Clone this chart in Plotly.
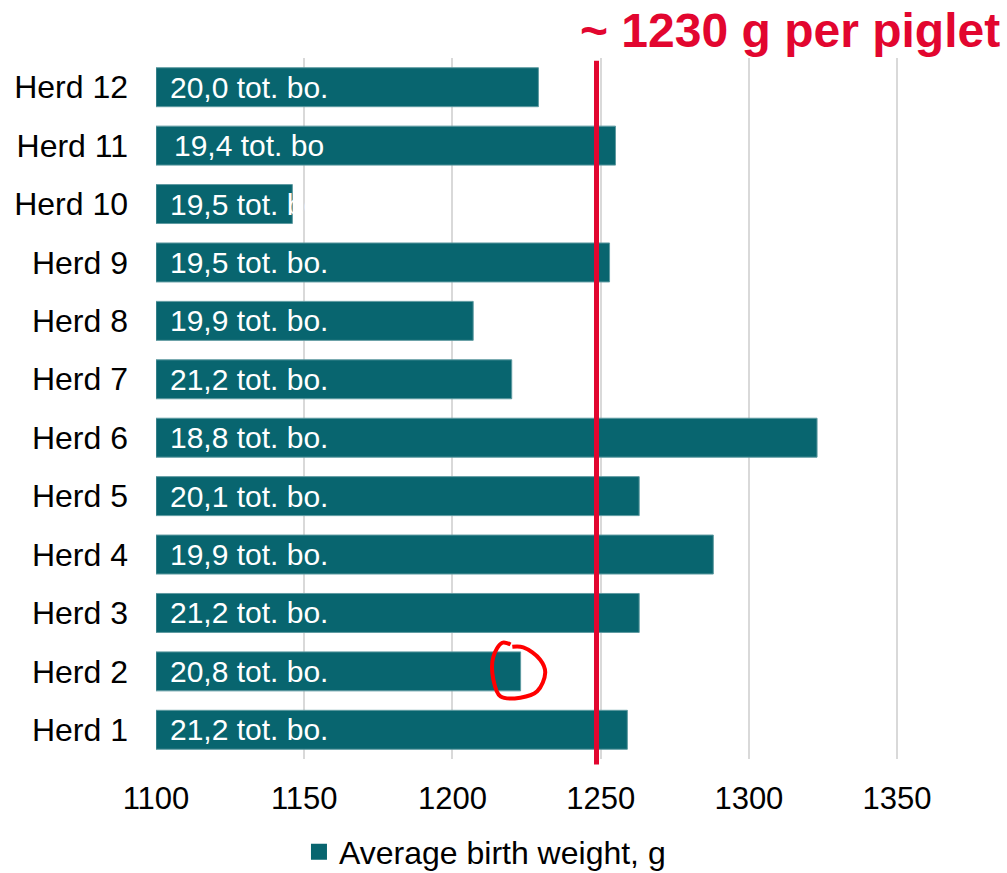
import plotly.graph_objects as go

# Herds listed bottom-to-top
herds = ["Herd 1", "Herd 2", "Herd 3", "Herd 4", "Herd 5", "Herd 6",
         "Herd 7", "Herd 8", "Herd 9", "Herd 10", "Herd 11", "Herd 12"]
birth_weight = [1259, 1223, 1263, 1288, 1263, 1323,
                1220, 1207, 1253, 1146, 1255, 1229]
total_born = ["21,2 tot. bo.", "20,8 tot. bo.", "21,2 tot. bo.", "19,9 tot. bo.",
              "20,1 tot. bo.", "18,8 tot. bo.", "21,2 tot. bo.", "19,9 tot. bo.",
              "19,5 tot. bo.", "19,5 tot. bo.", "19,4 tot. bo", "20,0 tot. bo."]
target_weight = 1248.6
x_ticks = [1100, 1150, 1200, 1250, 1300, 1350]

# hand-drawn ring around Herd 2's bar end (g, row position)
ring_x = [1219.6, 1216.8, 1213.8, 1213.8, 1216.2, 1222.9, 1228.6, 1231.3, 1229.6, 1223.9, 1220.2]
ring_y = [1.46, 1.49, 1.25, 0.86, 0.57, 0.55, 0.66, 0.98, 1.20, 1.41, 1.42]

BAR = "#08656F"
RED = "#E2062F"
SANS = "Liberation Sans, Arial, sans-serif"

rows = list(range(len(herds)))

fig = go.Figure()
fig.add_trace(go.Bar(
    y=rows, x=[w - 1100 for w in birth_weight], base=1100, orientation="h",
    marker=dict(color=BAR, line=dict(color="#5E9AA1", width=1)),
    showlegend=False, hoverinfo="skip",
))
# legend entry with a larger swatch
fig.add_trace(go.Scatter(
    x=[None], y=[None], mode="markers", name="Average birth weight, g",
    marker=dict(symbol="square", size=16, color=BAR), showlegend=True,
))
fig.add_trace(go.Scatter(
    x=ring_x, y=ring_y, mode="lines", line=dict(color="#FF0000", width=4, shape="spline"),
    showlegend=False, hoverinfo="skip",
))

for r, t in zip(rows, total_born):
    shift = 16 if t.endswith("bo") else 12
    fig.add_annotation(x=1100, y=r, xref="x", yref="y", text=t, showarrow=False,
                       xanchor="left", yanchor="middle", xshift=shift,
                       font=dict(family=SANS, size=30, color="white"))

fig.add_shape(type="line", x0=target_weight, x1=target_weight, xref="x",
              y0=-0.008, y1=0.996, yref="paper", line=dict(color=RED, width=5))

fig.add_annotation(x=0.754, y=1.039, xref="paper", yref="paper",
                   text="<b>~ 1230 g per piglet</b>", showarrow=False,
                   xanchor="center", yanchor="middle",
                   font=dict(family=SANS, size=48, color=RED))

fig.update_layout(
    width=1007, height=873,
    margin=dict(l=155.5, r=10, t=57.5, b=113.5, autoexpand=False),
    plot_bgcolor="white", paper_bgcolor="white",
    bargap=0.333,
    showlegend=True,
    legend=dict(orientation="h", x=0.17, xanchor="left",
                yref="container", y=0.024, yanchor="middle",
                bgcolor="rgba(0,0,0,0)",
                font=dict(family=SANS, size=32, color="black"),
                itemclick=False),
    xaxis=dict(range=[1100, 1383.7], tickvals=x_ticks, showgrid=True,
               gridcolor="#D9D9D9", gridwidth=1.5, zeroline=False, showline=False,
               ticks="", ticklabelstandoff=18, automargin=False,
               tickfont=dict(family=SANS, size=31, color="black")),
    yaxis=dict(tickvals=rows, ticktext=herds, showgrid=False,
               zeroline=False, showline=False, ticks="", ticklabelstandoff=27,
               range=[-0.5, 11.5], automargin=False,
               tickfont=dict(family=SANS, size=32, color="black")),
)

fig.write_html("out.html")
